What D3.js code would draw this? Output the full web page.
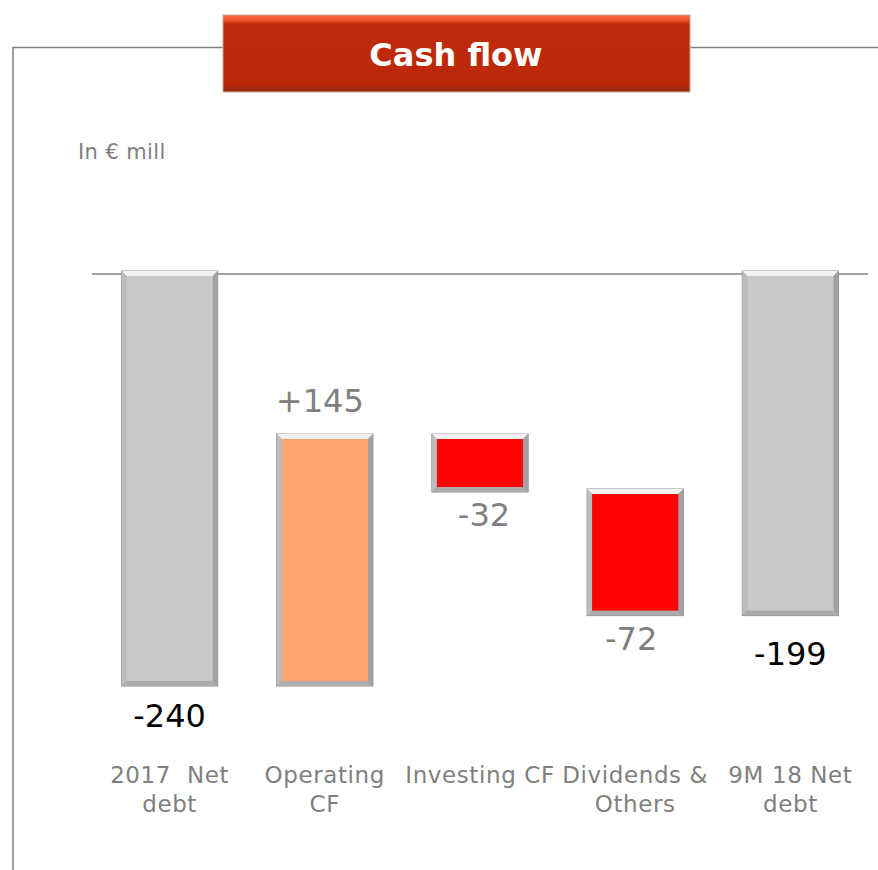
<!DOCTYPE html>
<html><head><meta charset="utf-8">
<script src="https://cdn.jsdelivr.net/npm/d3@7"></script>
<style>html,body{margin:0;padding:0;background:#fff;}svg{display:block;font-family:"DejaVu Sans",Verdana,sans-serif;}</style>
</head><body>
<svg id="c" width="878" height="870"></svg>
<script>
const categories = [["2017  Net","debt"],["Operating","CF"],["Investing CF"],["Dividends &","Others"],["9M 18 Net","debt"]];
const values = [-240, 145, -32, -72, -199];
const kinds = ["total","up","down","down","total"];
const valueLabels = ["-240","+145","-32","-72","-199"];
const title = "Cash flow";
const unitLabel = "In € mill";

const colors = {total:"#c9c9c9", up:"#ffa36f", down:"#ff0404"};
const svg = d3.select("#c");
const defs = svg.append("defs");

// frame
const frame = svg.append("g").attr("stroke","#808080").attr("stroke-width",1.5).attr("fill","none");
frame.append("path").attr("d","M13,870 V47.5 H224");
frame.append("path").attr("d","M688,47.5 H878");

// title box
const tg = defs.append("linearGradient").attr("id","tgrad").attr("x1",0).attr("y1",0).attr("x2",0).attr("y2",1);
tg.append("stop").attr("offset","0").attr("stop-color","#ff6a42");
tg.append("stop").attr("offset","0.07").attr("stop-color","#e8502a");
tg.append("stop").attr("offset","0.12").attr("stop-color","#be2a0a");
tg.append("stop").attr("offset","0.9").attr("stop-color","#bc290a");
tg.append("stop").attr("offset","1").attr("stop-color","#8e2a10");
svg.append("rect").attr("x",223).attr("y",15).attr("width",467).attr("height",77)
  .attr("fill","url(#tgrad)").attr("stroke","#c9a89c").attr("stroke-width",1);
svg.append("text").attr("x",456).attr("y",66).attr("text-anchor","middle")
  .attr("font-weight","bold").attr("font-size",32).attr("fill","#fff").text(title);

svg.append("text").attr("x",78).attr("y",159).attr("font-size",21).attr("letter-spacing",0.4)
  .attr("fill","#808080").text(unitLabel);

// scales
const x = d3.scaleBand().domain(d3.range(categories.length)).range([92,868]).paddingInner(0.38).paddingOuter(0.19);
const y = d3.scaleLinear().domain([-240,0]).range([686,274]);

// compute waterfall segments
let run = 0;
const segs = values.map((v,i)=>{
  let a,b;
  if (kinds[i]==="total"){ a=0; b=v; run=v; }
  else { a=run; b=run+v; run=b; }
  return {i, a, b, v, kind:kinds[i]};
});

// zero line
svg.append("line").attr("x1",92).attr("x2",868).attr("y1",y(0)).attr("y2",y(0))
  .attr("stroke","#808080").attr("stroke-width",1.5);

const bw = x.bandwidth();
const g = svg.append("g");
segs.forEach(s=>{
  const x0 = x(s.i), top = y(Math.max(s.a,s.b)) - 3, bot = y(Math.min(s.a,s.b));
  const h = bot - top;
  const c = colors[s.kind];
  const bg = g.append("g");
  bg.append("rect").attr("x",x0).attr("y",top).attr("width",bw).attr("height",h)
    .attr("fill","#a8a8a8").attr("stroke","#8c8c8c").attr("stroke-width",1);
  const inset = 5;
  bg.append("polygon").attr("points",[[x0,top],[x0+bw,top],[x0+bw-inset,top+inset],[x0+inset,top+inset]].join(" "))
    .attr("fill", "#f2f2f2");
  bg.append("polygon").attr("points",[[x0,top],[x0+inset,top+inset],[x0+inset,bot-inset],[x0,bot]].join(" "))
    .attr("fill","#bdbdbd");
  bg.append("polygon").attr("points",[[x0+bw,top],[x0+bw-inset,top+inset],[x0+bw-inset,bot-inset],[x0+bw,bot]].join(" "))
    .attr("fill","#a2a2a2");
  bg.append("polygon").attr("points",[[x0,bot],[x0+inset,bot-inset],[x0+bw-inset,bot-inset],[x0+bw,bot]].join(" "))
    .attr("fill","#acacac");
  bg.append("rect").attr("x",x0+inset).attr("y",top+inset).attr("width",bw-2*inset).attr("height",Math.max(0,h-2*inset))
    .attr("fill",c);
  let ly, col, dx = 0;
  if (s.kind==="total"){ ly = bot + 41 + (s.i===4?8:0); col="#000"; }
  else if (s.kind==="up"){ ly = top - 22; col="#808080"; dx = -5; }
  else { ly = bot + 34; col="#808080"; dx = s.i===2 ? 4 : -4; }
  g.append("text").attr("x",x0+bw/2+dx).attr("y",ly).attr("text-anchor","middle")
    .attr("font-size",32).attr("fill",col).text(valueLabels[s.i]);
  const t = g.append("text").attr("x",x0+bw/2).attr("y",783).attr("text-anchor","middle")
    .attr("font-size",23).attr("letter-spacing",0.6).style("white-space","pre").attr("fill","#808080");
  categories[s.i].forEach((line,k)=>{
    t.append("tspan").attr("x",x0+bw/2).attr("dy",k===0?0:29).text(line);
  });
});
</script>
</body></html>
